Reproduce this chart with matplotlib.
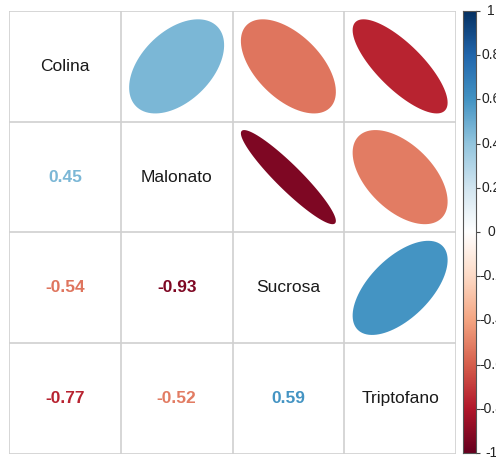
import numpy as np
import matplotlib
matplotlib.use("Agg")
import matplotlib.pyplot as plt
from matplotlib.colors import LinearSegmentedColormap

plt.rcParams['font.family'] = ['Liberation Sans', 'DejaVu Sans']

variables = ['Colina', 'Malonato', 'Sucrosa', 'Triptofano']
corr = np.array([
    [1.00, 0.45, -0.54, -0.77],
    [0.45, 1.00, -0.93, -0.52],
    [-0.54, -0.93, 1.00, 0.59],
    [-0.77, -0.52, 0.59, 1.00],
])
cbar_ticks = [-1, -0.8, -0.6, -0.4, -0.2, 0, 0.2, 0.4, 0.6, 0.8, 1]
cbar_labels = ['-1', '-0.8', '-0.6', '-0.4', '-0.2', '0', '0.2', '0.4', '0.6', '0.8', '1']

# RdBu ramp as used by corrplot
rdbu = ["#67001F", "#B2182B", "#D6604D", "#F4A582", "#FDDBC7", "#FFFFFF",
        "#D1E5F0", "#92C5DE", "#4393C3", "#2166AC", "#053061"]
cmap = LinearSegmentedColormap.from_list('rdbu', rdbu, N=200)


def col_of(v):
    return cmap((v + 1) / 2)


def ellipse(rho, n=99):
    k = np.linspace(0, 2 * np.pi, n)
    a = np.arccos(rho) / 2
    return 0.85 * np.cos(k + a) / 2, 0.85 * np.cos(k - a) / 2


W, H = 496, 461
fig = plt.figure(figsize=(W / 100, H / 100), dpi=100)
ax = fig.add_axes([9 / W, 7 / H, 447 / W, 443 / H])
n = len(variables)
ax.set_xlim(-0.5, n - 0.5)
ax.set_ylim(-0.5, n - 0.5)
ax.axis('off')

# grid
for g in np.arange(-0.5, n, 1.0):
    ax.plot([g, g], [-0.5, n - 0.5], color='#d0d0d0', lw=1.2, zorder=1)
    ax.plot([-0.5, n - 0.5], [g, g], color='#d0d0d0', lw=1.2, zorder=1)

for i in range(n):
    yc = n - 1 - i
    for j in range(n):
        v = corr[i, j]
        if i == j:
            ax.text(j, yc, variables[i], ha='center', va='center',
                    fontsize=12.5, color='#1a1a1a')
        elif j > i:
            ex, ey = ellipse(v)
            ax.fill(j + ex, yc + ey, color=col_of(v), lw=0, zorder=2)
        else:
            ax.text(j, yc, f'{v:.2f}', ha='center', va='center',
                    fontsize=12.5, fontweight='bold', color=col_of(v))

# color legend
cax = fig.add_axes([463 / W, 8 / H, 13 / W, 442 / H])
grad = np.linspace(-1, 1, 200).reshape(-1, 1)
cax.imshow(grad, aspect='auto', cmap=cmap, origin='lower',
           extent=[0, 1, -1, 1], vmin=-1, vmax=1)
cax.set_xlim(0, 1)
cax.set_ylim(-1, 1)
cax.set_xticks([])
cax.yaxis.tick_right()
cax.set_yticks(cbar_ticks)
cax.set_yticklabels([])
cax.tick_params(axis='y', length=3, width=0.8, color='#444444')
for t, lab in zip(cbar_ticks, cbar_labels):
    cax.text((491 - 463) / 13, t, lab, transform=cax.get_yaxis_transform(),
             ha='center', va='center', fontsize=10, color='#222222', clip_on=False)
for s in cax.spines.values():
    s.set_color('#555555')
    s.set_linewidth(0.8)

fig.savefig('out.png', dpi=100)
